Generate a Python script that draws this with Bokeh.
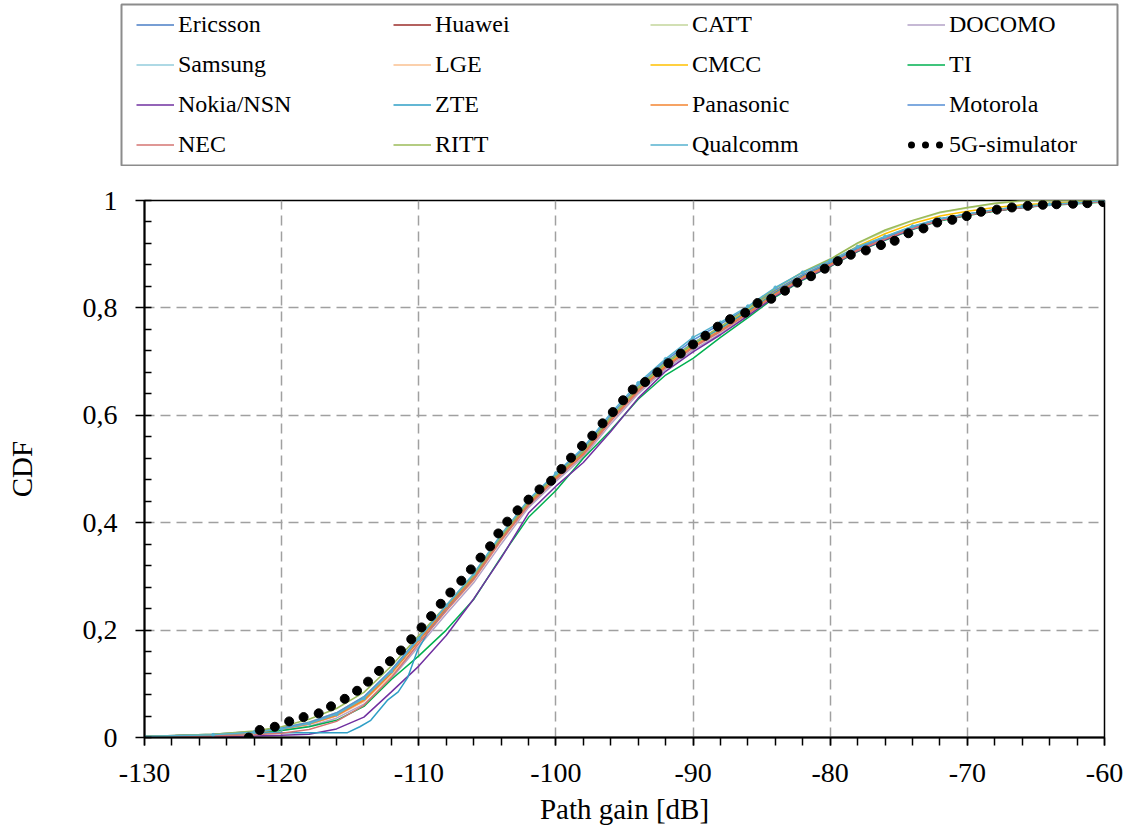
from bokeh.plotting import figure
from bokeh.models import (Legend, LegendItem, SingleIntervalTicker,
                          CustomJSTickFormatter, Range1d)
from bokeh.layouts import column
from bokeh.embed import file_html
from bokeh.resources import INLINE

FONT = "Liberation Serif"
NAN = float("nan")

# ---------------- data ----------------
XS = [-130, -125, -122, -120, -118, -116, -114, -112, -110, -108, -106, -104,
      -102, -100, -98, -96, -94, -92, -90, -88, -86, -84, -82, -80, -78, -76,
      -74, -72, -70, -68, -66, -64, -62, -60]

ERICSSON = [0.002, 0.005, 0.010, 0.017, 0.027, 0.044, 0.074, 0.124, 0.185, 0.244, 0.300, 0.372,
            0.438, 0.488, 0.534, 0.597, 0.652, 0.698, 0.735, 0.764, 0.796, 0.830, 0.860, 0.884,
            0.912, 0.932, 0.951, 0.966, 0.975, 0.983, 0.989, 0.993, 0.996, 0.999]
HUAWEI = [0.002, 0.005, 0.009, 0.015, 0.025, 0.041, 0.070, 0.120, 0.180, 0.240, 0.297, 0.370,
          0.435, 0.484, 0.530, 0.592, 0.647, 0.692, 0.730, 0.760, 0.793, 0.828, 0.858, 0.882,
          0.909, 0.929, 0.948, 0.963, 0.973, 0.981, 0.987, 0.992, 0.995, 0.998]
CATT = [0.002, 0.006, 0.011, 0.018, 0.029, 0.046, 0.076, 0.124, 0.183, 0.243, 0.300, 0.372,
        0.437, 0.487, 0.533, 0.596, 0.651, 0.697, 0.733, 0.764, 0.798, 0.836, 0.866, 0.890,
        0.920, 0.943, 0.962, 0.977, 0.986, 0.994, 0.999, 1.0, 1.0, 1.0]
DOCOMO = [0.001, 0.004, 0.008, 0.013, 0.021, 0.036, 0.062, 0.110, 0.170, 0.230, 0.288, 0.360,
          0.428, 0.477, 0.522, 0.584, 0.640, 0.686, 0.722, 0.752, 0.786, 0.822, 0.853, 0.878,
          0.906, 0.927, 0.947, 0.963, 0.973, 0.981, 0.987, 0.992, 0.995, 0.998]
SAMSUNG = [0.002, 0.005, 0.010, 0.016, 0.026, 0.043, 0.072, 0.122, 0.182, 0.242, 0.299, 0.371,
           0.436, 0.485, 0.531, 0.594, 0.649, 0.694, 0.730, 0.760, 0.792, 0.827, 0.857, 0.881,
           0.909, 0.929, 0.949, 0.964, 0.974, 0.982, 0.988, 0.993, 0.996, 0.999]
LGE = [0.002, 0.005, 0.009, 0.015, 0.024, 0.040, 0.067, 0.116, 0.176, 0.236, 0.293, 0.366,
       0.432, 0.481, 0.526, 0.589, 0.644, 0.689, 0.726, 0.756, 0.789, 0.825, 0.856, 0.880,
       0.908, 0.928, 0.948, 0.964, 0.974, 0.982, 0.988, 0.992, 0.995, 0.998]
CMCC = [0.002, 0.005, 0.010, 0.016, 0.026, 0.042, 0.071, 0.121, 0.182, 0.242, 0.299, 0.373,
        0.438, 0.487, 0.532, 0.595, 0.650, 0.695, 0.731, 0.762, 0.795, 0.832, 0.862, 0.886,
        0.915, 0.938, 0.957, 0.971, 0.980, 0.987, 0.992, 0.995, 0.997, 0.999]
TI = [0.002, 0.005, 0.009, 0.013, 0.020, 0.032, 0.058, 0.108, 0.152, 0.200, 0.257, 0.336,
      0.410, 0.460, 0.520, 0.572, 0.630, 0.675, 0.706, 0.745, 0.782, 0.820, 0.852, 0.877,
      0.905, 0.926, 0.946, 0.962, 0.972, 0.980, 0.987, 0.991, 0.994, 0.997]
NOKIA = [0.001, 0.002, 0.003, 0.004, 0.006, 0.016, 0.038, 0.085, 0.133, 0.190, 0.258, 0.334,
         0.418, 0.468, 0.512, 0.570, 0.632, 0.682, 0.718, 0.750, 0.785, 0.822, 0.853, 0.878,
         0.906, 0.927, 0.947, 0.963, 0.973, 0.981, 0.987, 0.992, 0.995, 0.998]
PANASONIC = [0.002, 0.005, 0.009, 0.016, 0.025, 0.041, 0.069, 0.120, 0.181, 0.241, 0.298, 0.370,
             0.435, 0.484, 0.529, 0.592, 0.647, 0.692, 0.728, 0.758, 0.791, 0.826, 0.857, 0.881,
             0.909, 0.929, 0.949, 0.964, 0.974, 0.982, 0.988, 0.992, 0.995, 0.998]
MOTOROLA = [0.002, 0.006, 0.011, 0.018, 0.028, 0.046, 0.076, 0.126, 0.186, 0.245, 0.302, 0.374,
            0.440, 0.490, 0.537, 0.600, 0.656, 0.702, 0.740, 0.770, 0.800, 0.833, 0.862, 0.885,
            0.911, 0.931, 0.950, 0.965, 0.974, 0.982, 0.988, 0.992, 0.995, 0.998]
NEC = [0.001, 0.003, 0.005, 0.008, 0.015, 0.030, 0.060, 0.112, 0.175, 0.236, 0.294, 0.367,
       0.432, 0.481, 0.526, 0.589, 0.644, 0.689, 0.726, 0.756, 0.789, 0.824, 0.855, 0.879,
       0.907, 0.928, 0.948, 0.963, 0.973, 0.981, 0.987, 0.992, 0.995, 0.998]
RITT = [0.002, 0.006, 0.012, 0.020, 0.034, 0.054, 0.084, 0.133, 0.190, 0.246, 0.302, 0.374,
        0.439, 0.488, 0.534, 0.597, 0.652, 0.698, 0.734, 0.765, 0.799, 0.837, 0.867, 0.891,
        0.921, 0.945, 0.963, 0.978, 0.987, 0.995, 1.0, 1.0, 1.0, 1.0]
QUALCOMM = [0.002, 0.005, 0.010, 0.016, 0.026, 0.043, 0.073, 0.123, 0.184, 0.246, 0.305, 0.378,
            0.443, 0.492, 0.540, 0.604, 0.660, 0.705, 0.745, 0.773, 0.803, 0.838, 0.866, 0.888,
            0.914, 0.933, 0.952, 0.966, 0.975, 0.983, 0.989, 0.993, 0.996, 1.0]

ZTE_X = [-130, -125, -122, -120, -118, -116, -115.2, -114.3, -113.5, -112.3, -111.5, -110.8,
         -110.1, -109.4, -108, -106, -104, -102, -100, -98, -96, -94, -92, -90, -88, -86,
         -84, -82, -80, -78, -76, -74, -72, -70, -68, -66, -64, -62, -60]
ZTE = [0.002, 0.005, 0.008, 0.009, 0.009, 0.009, 0.009, 0.020, 0.032, 0.069, 0.085, 0.112,
       0.162, 0.193, 0.240, 0.296, 0.370, 0.436, 0.486, 0.532, 0.595, 0.651, 0.697, 0.733,
       0.762, 0.794, 0.828, 0.858, 0.882, 0.910, 0.930, 0.950, 0.965, 0.974, 0.982, 0.988,
       0.992, 0.995, 0.998]

SIM_X = [-122.4, -121.6, -120.5, -119.45, -118.4, -117.3, -116.4, -115.4, -114.5, -113.7,
         -112.9, -112.1, -111.3, -110.55, -109.8, -109.1, -108.4, -107.7, -106.9, -106.2,
         -105.5, -104.8, -104.2, -103.55, -102.8, -102.0, -101.2, -100.35, -99.6, -98.9,
         -98.1, -97.35, -96.6, -95.85, -95.1, -94.4, -93.5, -92.6, -91.8, -90.9, -90.0,
         -89.1, -88.2, -87.3, -86.2, -85.3, -84.3, -83.3, -82.4, -81.4, -80.4, -79.45,
         -78.5, -77.4, -76.3, -75.3, -74.3, -73.2, -72.2, -71.1, -70.05, -69.0, -67.85,
         -66.75, -65.6, -64.5, -63.5, -62.3, -61.25, -60.1]
SIM_Y = [0.0, 0.014, 0.02, 0.03, 0.038, 0.045, 0.058, 0.072, 0.087, 0.104,
         0.124, 0.142, 0.162, 0.183, 0.205, 0.226, 0.249, 0.27, 0.292, 0.313,
         0.335, 0.356, 0.38, 0.402, 0.423, 0.443, 0.462, 0.478, 0.5, 0.521,
         0.543, 0.562, 0.585, 0.606, 0.628, 0.648, 0.662, 0.68, 0.697, 0.715, 0.732,
         0.748, 0.765, 0.779, 0.791, 0.809, 0.817, 0.832, 0.847, 0.859, 0.873, 0.887,
         0.899, 0.907, 0.917, 0.925, 0.939, 0.948, 0.959, 0.964, 0.971, 0.979, 0.983,
         0.987, 0.99, 0.992, 0.993, 0.994, 0.995, 0.997]

NAMES = ["Ericsson", "Huawei", "CATT", "DOCOMO", "Samsung", "LGE", "CMCC", "TI",
         "Nokia/NSN", "ZTE", "Panasonic", "Motorola", "NEC", "RITT", "Qualcomm"]
SERIES = {
    "Ericsson": (XS, ERICSSON), "Huawei": (XS, HUAWEI), "CATT": (XS, CATT),
    "DOCOMO": (XS, DOCOMO), "Samsung": (XS, SAMSUNG), "LGE": (XS, LGE),
    "CMCC": (XS, CMCC), "TI": (XS, TI), "Nokia/NSN": (XS, NOKIA), "ZTE": (ZTE_X, ZTE),
    "Panasonic": (XS, PANASONIC), "Motorola": (XS, MOTOROLA), "NEC": (XS, NEC),
    "RITT": (XS, RITT), "Qualcomm": (XS, QUALCOMM),
}
COLORS = {
    "Ericsson": "#4a7ec6", "Huawei": "#9b2d2a", "CATT": "#c3d69b", "DOCOMO": "#b3a2c7",
    "Samsung": "#93cddd", "LGE": "#fac090", "CMCC": "#ffc000", "TI": "#00b050",
    "Nokia/NSN": "#7030a0", "ZTE": "#2f9fc6", "Panasonic": "#f38430", "Motorola": "#558ed5",
    "NEC": "#d47472", "RITT": "#9bbb59", "Qualcomm": "#56b2cf",
}
SIM_NAME = "5G-simulator"

# ---------------- main chart ----------------
p = figure(width=1130, height=663, x_range=Range1d(-130, -60), y_range=Range1d(0, 1),
           output_backend="svg", toolbar_location=None,
           min_border_left=144, min_border_right=26, min_border_top=34, min_border_bottom=92)
p.frame_align = False
p.background_fill_color = "white"
p.border_fill_color = "white"
p.outline_line_color = "black"
p.outline_line_width = 1.5

for name in NAMES:
    xs, ys = SERIES[name]
    p.line(xs, ys, line_color=COLORS[name], line_width=1.5)
p.scatter(XS, QUALCOMM, size=3, color=COLORS["Qualcomm"])
p.scatter(SIM_X, SIM_Y, size=9, color="black")

p.xaxis.ticker = SingleIntervalTicker(interval=10, num_minor_ticks=5)
p.yaxis.ticker = SingleIntervalTicker(interval=0.2, num_minor_ticks=5)
p.xaxis.formatter = CustomJSTickFormatter(code="return tick.toFixed(0);")
p.yaxis.formatter = CustomJSTickFormatter(
    code="return (Math.round(tick*10)/10).toString().replace('.', ',');")

for ax in (p.xaxis[0], p.yaxis[0]):
    ax.axis_line_color = "black"
    ax.axis_line_width = 2
    ax.major_tick_line_color = "black"
    ax.major_tick_line_width = 1.5
    ax.minor_tick_line_color = "black"
    ax.minor_tick_line_width = 1.5
    ax.major_label_text_font = FONT
    ax.major_label_text_font_size = "28px"
    ax.major_label_text_color = "black"
    ax.axis_label_text_font = FONT
    ax.axis_label_text_font_size = "29px"
    ax.axis_label_text_font_style = "normal"
    ax.axis_label_text_color = "black"

p.xaxis.axis_label = "Path gain [dB]"
p.yaxis.axis_label = "CDF"
p.xaxis.major_tick_out = 8
p.xaxis.major_tick_in = 0
p.xaxis.minor_tick_out = 8
p.xaxis.minor_tick_in = 0
p.xaxis.major_label_standoff = 18
p.xaxis.axis_label_standoff = 8
p.yaxis.major_tick_out = 9
p.yaxis.major_tick_in = 0
p.yaxis.minor_tick_out = 0
p.yaxis.minor_tick_in = 7
p.yaxis.major_label_standoff = 18
p.yaxis.axis_label_standoff = 42

for g in (p.xgrid[0], p.ygrid[0]):
    g.grid_line_color = "#a0a0a0"
    g.grid_line_width = 1.5
    g.grid_line_dash = "10 6"

# ---------------- legend box ----------------
lf = figure(width=1130, height=166, x_range=Range1d(0, 1), y_range=Range1d(0, 1),
            output_backend="svg", toolbar_location=None,
            x_axis_location=None, y_axis_location=None,
            min_border_left=121, min_border_right=13, min_border_top=4, min_border_bottom=1)
lf.frame_align = False
lf.grid.visible = False
lf.background_fill_color = "white"
lf.border_fill_color = "white"
lf.outline_line_color = "#8c8c8c"
lf.outline_line_width = 2

items = []
for name in NAMES:
    r = lf.line([NAN], [NAN], line_color=COLORS[name], line_width=1.5)
    items.append(LegendItem(label=name, renderers=[r]))
sim_r = lf.line([NAN], [NAN], line_color="black", line_width=7, line_dash="0 14",
                line_dash_offset=-4, line_cap="round")
items.append(LegendItem(label=SIM_NAME, renderers=[sim_r]))

legend = Legend(items=items, location=(15, 1), orientation="horizontal", ncols=4,
                glyph_width=38, glyph_height=39, label_height=39, label_width=214,
                label_standoff=4, spacing=1, padding=0, margin=0,
                border_line_alpha=0, background_fill_alpha=0,
                label_text_font=FONT, label_text_font_size="24px",
                label_text_color="black")
lf.add_layout(legend)

layout = column(lf, p)
open("out.html", "w").write(file_html(layout, INLINE))
